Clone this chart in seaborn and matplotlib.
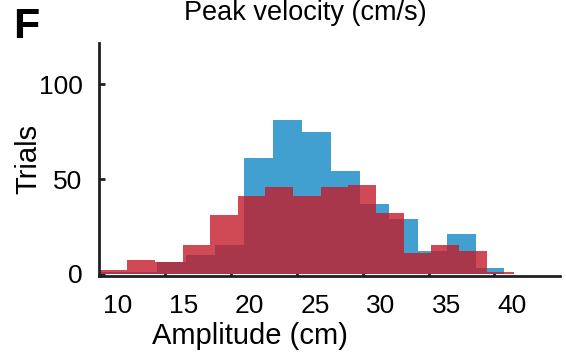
"""
Amplitude histogram (panel F) - two overlapping trial distributions
"""

import numpy as np
import pandas as pd
import matplotlib
matplotlib.use("Agg")
import matplotlib.pyplot as plt
import seaborn as sns

# Data
blue_counts = [1, 1, 6, 10, 15, 61, 81, 75, 54, 37, 29, 12, 21, 3]
red_counts = [2, 7, 6, 15, 31, 41, 46, 41, 46, 47, 32, 11, 15, 12, 1]
bin_start = 8.64
blue_bin_width = 2.197
red_bin_width = 2.1

x_ticks = [10, 15, 20, 25, 30, 35, 40]
y_ticks = [0, 50, 100]
tick_mark_offset = 3.64  # tick marks sit off the labels in the source figure

BLUE = "#42a0d0"
RED = "#c31d2a"
INK = "#231f20"

sns.set_style("ticks")
plt.rcParams['font.family'] = ['Liberation Sans', 'DejaVu Sans']
plt.rcParams['text.color'] = 'black'
plt.rcParams['axes.labelcolor'] = 'black'
plt.rcParams['xtick.labelcolor'] = 'black'
plt.rcParams['ytick.labelcolor'] = 'black'


def make_frame(counts, width):
    edges = bin_start + width * np.arange(len(counts) + 1)
    centers = (edges[:-1] + edges[1:]) / 2
    return pd.DataFrame({'Amplitude': centers, 'Trials': counts}), edges.tolist()


blue_df, blue_edges = make_frame(blue_counts, blue_bin_width)
red_df, red_edges = make_frame(red_counts, red_bin_width)

fig = plt.figure(figsize=(5.66, 3.56), dpi=100)
ax = fig.add_axes([0.175, 0.226, 0.814, 0.654])

sns.histplot(data=blue_df, x='Amplitude', weights='Trials', bins=blue_edges,
             color=BLUE, alpha=1.0, linewidth=0, ax=ax)
sns.histplot(data=red_df, x='Amplitude', weights='Trials', bins=red_edges,
             color=RED, alpha=0.8, linewidth=0, ax=ax)

ax.set_xlim(8.6, 43.6)
ax.set_ylim(-1, 122)

# labels at the nominal values, marks shifted like the original
ax.set_xticks(x_ticks)
ax.set_xticklabels([str(t) for t in x_ticks], fontsize=19)
ax.tick_params(axis='x', which='major', length=0, pad=13)
ax.set_xticks([t + tick_mark_offset for t in x_ticks[:-1]], minor=True)
ax.tick_params(axis='x', which='minor', direction='in', length=4, width=2, color=INK)

ax.set_yticks(y_ticks)
ax.set_yticklabels([str(t) for t in y_ticks], fontsize=19)
ax.tick_params(axis='y', direction='in', length=4, width=2, color=INK, pad=12)

ax.set_xlabel('Amplitude (cm)', fontsize=21)
ax.xaxis.set_label_coords(0.328, -0.2)
ax.set_ylabel('Trials', fontsize=21)
ax.yaxis.set_label_coords(-0.122, 0.5)

sns.despine(ax=ax)
for side in ['left', 'bottom']:
    ax.spines[side].set_linewidth(2)
    ax.spines[side].set_color(INK)

fig.text(0.54, 1 - 20 / 356, 'Peak velocity (cm/s)', fontsize=19.5,
         ha='center', va='baseline')
fig.text(13 / 566, 1 - 38 / 356, 'F', fontsize=31, fontweight='bold',
         ha='left', va='baseline')

plt.savefig('out.png', dpi=100)
plt.close()
